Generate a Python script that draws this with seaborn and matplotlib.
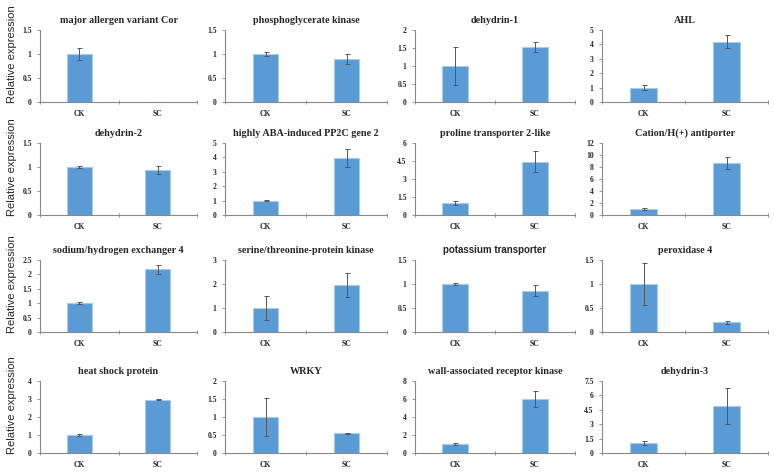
import numpy as np
import pandas as pd
import seaborn as sns
import matplotlib.pyplot as plt
from matplotlib.ticker import MultipleLocator, FormatStrFormatter

# qRT-PCR values (mean and error for CK and SC)
genes = ['major allergen variant Cor', 'phosphoglycerate kinase', 'dehydrin-1', 'AHL',
         'dehydrin-2', 'highly ABA-induced PP2C gene 2', 'proline transporter 2-like',
         'Cation/H(+) antiporter',
         'sodium/hydrogen exchanger 4', 'serine/threonine-protein kinase',
         'potassium transporter', 'peroxidase 4',
         'heat shock protein', 'WRKY', 'wall-associated receptor kinase', 'dehydrin-3']
groups = ['CK', 'SC']
ck_mean = [1.0, 1.0, 1.0, 1.0, 1.0, 1.0, 1.0, 1.0, 1.0, 1.0, 1.0, 1.0, 1.0, 1.0, 1.0, 1.0]
ck_err = [0.13, 0.04, 0.52, 0.15, 0.02, 0.05, 0.15, 0.1, 0.04, 0.5, 0.03, 0.43, 0.04, 0.52, 0.1, 0.2]
sc_mean = [0.0, 0.9, 1.52, 4.2, 0.94, 3.95, 4.45, 8.7, 2.18, 1.97, 0.86, 0.2, 2.97, 0.55, 6.0, 4.9]
sc_err = [0.0, 0.1, 0.14, 0.45, 0.09, 0.65, 0.9, 1.0, 0.15, 0.5, 0.11, 0.03, 0.02, 0.01, 0.85, 1.85]
y_max = [1.5, 1.5, 2, 5, 1.5, 5, 6, 12, 2.5, 3, 1.5, 1.5, 4, 2, 8, 7.5]
y_step = [0.5, 0.5, 0.5, 1, 0.5, 1, 1.5, 2, 0.5, 1, 0.5, 0.5, 1, 0.5, 2, 1.5]

sns.set_style('white')
plt.rcParams['font.family'] = ['Liberation Serif', 'DejaVu Serif']

W, H = 774, 472
fig = plt.figure(figsize=(W / 100, H / 100), dpi=100)

col_left = [40, 225, 415, 602]
col_width = [157, 162, 160, 166]
row_top = [30, 143, 260, 381]
row_h = 72

for i, gene in enumerate(genes):
    r, c = divmod(i, 4)
    ax = fig.add_axes([col_left[c] / W, 1 - (row_top[r] + row_h) / H,
                       col_width[c] / W, row_h / H])
    df = pd.DataFrame({'group': groups, 'value': [ck_mean[i], sc_mean[i]]})
    sns.barplot(data=df, x='group', y='value', ax=ax, color='#5B9BD5',
                width=0.32, edgecolor='#A9CBEA', linewidth=0.8, saturation=1)
    err = np.array([ck_err[i], sc_err[i]])
    mean = np.array([ck_mean[i], sc_mean[i]])
    keep = err > 0
    ax.errorbar(np.arange(2)[keep], mean[keep], yerr=err[keep], fmt='none',
                ecolor='#555555', elinewidth=0.7, capsize=1.8, capthick=0.7)

    ax.set_xlim(-0.5, 1.5)
    ax.set_ylim(0, y_max[i])
    ax.yaxis.set_major_locator(MultipleLocator(y_step[i]))
    ax.yaxis.set_major_formatter(FormatStrFormatter('%g'))
    ax.xaxis.set_minor_locator(MultipleLocator(1, offset=0.5))
    ax.tick_params(axis='x', which='major', length=0, pad=6, labelsize=5.5)
    ax.tick_params(axis='x', which='minor', length=2.5, width=0.6, color='#888888',
                   direction='inout', bottom=True)
    ax.tick_params(axis='y', which='major', length=2, width=0.6, color='#888888',
                   direction='out', left=True, pad=4, labelsize=5.5)
    for lab in ax.get_xticklabels() + ax.get_yticklabels():
        lab.set_fontweight('bold')
    ax.set_xlabel('')
    ax.set_ylabel('')
    sns.despine(ax=ax)
    for s in ['left', 'bottom']:
        ax.spines[s].set_color('#888888')
        ax.spines[s].set_linewidth(0.8)

    if gene == 'potassium transporter':
        ax.set_title(gene, fontsize=7, fontweight='bold', pad=5,
                     family=['Liberation Sans', 'DejaVu Sans'])
    else:
        ax.set_title(gene, fontsize=7.3, fontweight='bold', pad=5)

for r in range(4):
    yc = 1 - (row_top[r] + row_h / 2 - 12) / H
    fig.text(12 / W, yc, 'Relative expression', rotation=90, va='center', ha='center',
             fontsize=8, family=['Liberation Sans', 'DejaVu Sans'])

fig.savefig('out.png', dpi=100, facecolor='white')
